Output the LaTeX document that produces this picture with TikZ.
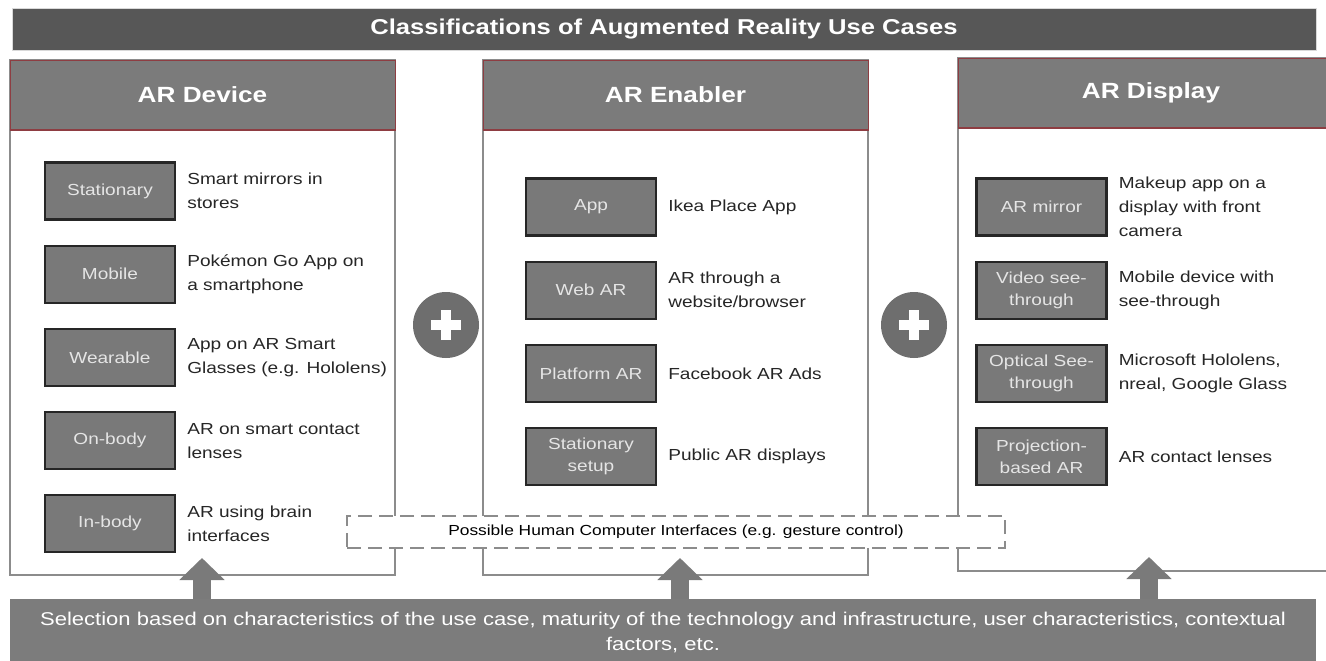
\documentclass[tikz,border=0pt]{standalone}
\usepackage{fontspec}
\setmainfont[FakeStretch=1.19]{Liberation Sans}
\usetikzlibrary{positioning,arrows.meta}

\definecolor{titlegrey}{HTML}{575757}
\definecolor{headgrey}{HTML}{7B7B7B}
\definecolor{headred}{HTML}{8E3D42}
\definecolor{framegrey}{HTML}{8C8C8C}
\definecolor{kindgrey}{HTML}{797979}
\definecolor{plusgrey}{HTML}{6E6E6E}
\definecolor{liftgrey}{HTML}{7A7A7A}
\definecolor{bargrey}{HTML}{7C7C7C}

\tikzset{
  panel/.style={rectangle,draw=framegrey,line width=1.6pt,fill=white,
    minimum width=385pt,inner sep=0pt},
  head/.style={rectangle,fill=headgrey,draw=headred,line width=0.8pt,
    minimum width=385pt,minimum height=70pt,inner sep=0pt,text=white,
    font=\fontsize{22}{26}\selectfont\bfseries},
  kind/.style={rectangle,fill=kindgrey,draw=black!85,line width=2.2pt,
    minimum width=130pt,minimum height=57pt,inner sep=1pt,align=center,
    text=white!90!black,font=\fontsize{16}{22}\selectfont},
  desc/.style={right=10pt of #1,inner sep=1pt,align=left,text=black!85,
    font=\fontsize{16}{24}\selectfont},
  plus/.style={circle,fill=plusgrey,minimum size=66pt,inner sep=0pt},
  plusbar/.style={white,line width=10pt},
  lift/.style={draw=liftgrey,line width=18pt,-{Triangle[width=44pt,length=22pt]}},
  bar/.style={rectangle,fill=#1,inner sep=0pt,text=white}
}

\begin{document}
\begin{tikzpicture}[x=1pt,y=-1pt]
  \clip (0,0) rectangle (1326,661);
  \fill[white] (0,0) rectangle (1326,661);

  % title
  \node[bar=titlegrey,draw=black!15,line width=0.8pt,minimum width=1304pt,minimum height=42pt,
    font=\fontsize{21.5}{25}\selectfont\bfseries] (title) at (664,29)
    {Classifications of Augmented Reality Use Cases};

  % the three columns
  \node[panel,minimum height=515pt] (dev) at (202.5,317.5) {};
  \node[panel,minimum height=515pt] (ena) at (675.5,317.5) {};
  \node[panel,minimum height=513pt,minimum width=386pt] (dsp) at (1151,314.5) {};
  \node[head] (devhead) at (202.5,95) {AR Device};
  \node[head] (enahead) at (675.5,95) {AR Enabler};
  \node[head,minimum width=386pt] (dsphead) at (1151,93) {AR Display};
  \foreach \h in {devhead,enahead,dsphead}
    \draw[headred,line width=2pt] (\h.south west) -- (\h.south east);

  % AR Device
  \node[kind] (stat) at (110,191) {Stationary};
  \node[kind,below=24pt of stat] (mob) {Mobile};
  \node[kind,below=24pt of mob] (wear) {Wearable};
  \node[kind,below=24pt of wear] (onb) {On-body};
  \node[kind,below=24pt of onb] (inb) {In-body};
  \node[desc=stat] (statd) {Smart mirrors in\\stores};
  \node[desc=mob] (mobd) {Pokémon Go App on\\a smartphone};
  \node[desc=wear] (weard) {App on AR Smart\\Glasses (e.g. Hololens)};
  \node[desc=onb] (onbd) {AR on smart contact\\lenses};
  \node[desc=inb] (inbd) {AR using brain\\interfaces};

  % AR Enabler
  \node[kind] (app) at (591,207) {App};
  \node[kind,below=24pt of app] (web) {Web AR};
  \node[kind,below=24pt of web] (plat) {Platform AR};
  \node[kind,below=24pt of plat] (setup) {Stationary\\setup};
  \node[desc=app] (appd) {Ikea Place App};
  \node[desc=web] (webd) {AR through a\\website/browser};
  \node[desc=plat] (platd) {Facebook AR Ads};
  \node[desc=setup] (setupd) {Public AR displays};

  % AR Display
  \node[kind] (mirr) at (1041.5,207) {AR mirror};
  \node[kind,below=24pt of mirr] (video) {Video see-\\through};
  \node[kind,below=24pt of video] (optic) {Optical See-\\through};
  \node[kind,below=24pt of optic] (proj) {Projection-\\based AR};
  \node[desc=mirr] (mirrd) {Makeup app on a\\display with front\\camera};
  \node[desc=video] (videod) {Mobile device with\\see-through};
  \node[desc=optic] (opticd) {Microsoft Hololens,\\nreal, Google Glass};
  \node[desc=proj] (projd) {AR contact lenses};

  % interfaces across all columns
  \node[rectangle,draw=black!45,fill=white,line width=1.8pt,dash pattern=on 14pt off 7pt,
    minimum width=658pt,minimum height=32pt,inner sep=0pt,
    font=\fontsize{14.6}{16}\selectfont] (hci) at (676,532)
    {Possible Human Computer Interfaces (e.g. gesture control)};

  % plus signs between columns
  \node[plus] (plusa) at (446,325) {};
  \node[plus] (plusb) at (914,325) {};
  \foreach \p in {plusa,plusb} {
    \draw[plusbar] ([xshift=-15pt]\p.center) -- ([xshift=15pt]\p.center);
    \draw[plusbar] ([yshift=-15pt]\p.center) -- ([yshift=15pt]\p.center);
  }

  % selection bar and arrows
  \node[bar=bargrey,minimum width=1306pt,minimum height=66pt,align=center,
    font=\fontsize{18.5}{25}\selectfont] (sel) at (663,632)
    {Selection based on characteristics of the use case, maturity of the technology and infrastructure, user characteristics, contextual\\factors, etc.};
  \coordinate (tipa) at (202,558);
  \coordinate (tipb) at (680,558);
  \coordinate (tipc) at (1149,557);
  \foreach \t in {tipa,tipb,tipc}
    \draw[lift] (\t |- sel.north) -- (\t);
\end{tikzpicture}
\end{document}
